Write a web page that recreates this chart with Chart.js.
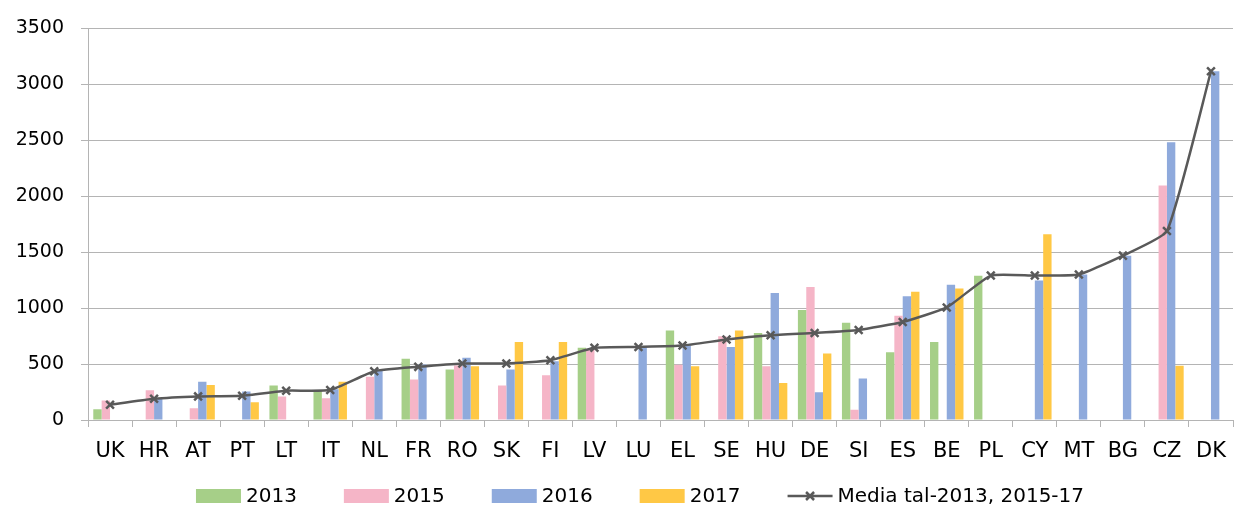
<!DOCTYPE html>
<html>
<head>
<meta charset="utf-8">
<title>Media</title>
<script src="https://cdn.jsdelivr.net/npm/chart.js@4.4.1/dist/chart.umd.min.js"></script>
<style>
    html, body { margin: 0; padding: 0; background: #ffffff; }
    #wrap { width: 1234px; height: 508px; }
</style>
</head>
<body>
<div id="wrap"><canvas id="myChart" width="1234" height="508"></canvas></div>
<script>
var categories = ["UK", "HR", "AT", "PT", "LT", "IT", "NL", "FR", "RO", "SK", "FI", "LV", "LU", "EL", "SE", "HU", "DE", "SI", "ES", "BE", "PL", "CY", "MT", "BG", "CZ", "DK"];
var yTicks = [0, 500, 1000, 1500, 2000, 2500, 3000, 3500];

var v2013 = [95, null, null, null, 309, 268, null, 547, 451, null, null, 645, null, 799, null, 778, 983, 870, 606, 698, 1289, null, null, null, null, null];
var v2015 = [175, 267, 104, null, 211, 195, 386, 362, 487, 309, 401, 636, null, 493, 748, 481, 1188, 92, 932, null, null, null, null, null, 2096, null];
var v2016 = [null, 195, 342, 255, null, 275, 451, 496, 556, 451, 526, null, 650, 665, 653, 1134, 247, 371, 1105, 1208, null, 1247, 1300, 1467, 2482, 3117];
var v2017 = [null, null, 312, 158, null, 342, null, null, 481, 698, 698, null, null, 481, 799, 330, 594, null, 1146, 1176, null, 1660, null, null, 484, null];
var media = [137, 190, 211, 217, 262, 268, 436, 475, 505, 505, 534, 645, 653, 665, 719, 757, 778, 805, 876, 1006, 1291, 1291, 1300, 1469, 1689, 3117];

var seriesLabels = ["2013", "2015", "2016", "2017", "Media tal-2013, 2015-17"];
var colors = ["#A6CF88", "#F5B5C7", "#8FAADC", "#FFC845", "#595959"];

var gridColor = "#B4B4B4";
var fontName = "'DejaVu Sans', sans-serif";

// legend drawn by hand so the spacing can follow the picture
var legendPlugin = {
    id: "handLegend",
    afterDraw: function (chart) {
        var ctx = chart.ctx;
        var boxW = 45, boxH = 14, gap = 5, itemGap = 47;
        var cy = 496;
        ctx.save();
        ctx.font = "20px " + fontName;
        ctx.textBaseline = "middle";
        var widths = seriesLabels.map(function (t) {
            return boxW + gap + ctx.measureText(t).width;
        });
        var total = widths.reduce(function (a, b) { return a + b; }, 0) + itemGap * (widths.length - 1);
        var x = 640 - total / 2;
        for (var i = 0; i < seriesLabels.length; i++) {
            if (i < 4) {
                ctx.fillStyle = colors[i];
                ctx.fillRect(x, cy - boxH / 2, boxW, boxH);
            } else {
                ctx.strokeStyle = colors[i];
                ctx.lineWidth = 2.5;
                ctx.beginPath();
                ctx.moveTo(x, cy);
                ctx.lineTo(x + boxW, cy);
                var mx = x + boxW / 2, r = 4;
                ctx.moveTo(mx - r, cy - r);
                ctx.lineTo(mx + r, cy + r);
                ctx.moveTo(mx - r, cy + r);
                ctx.lineTo(mx + r, cy - r);
                ctx.stroke();
            }
            ctx.fillStyle = "#000000";
            ctx.fillText(seriesLabels[i], x + boxW + gap, cy + 1);
            x += widths[i] + itemGap;
        }
        ctx.restore();
    },
};

function barSet(idx, values) {
    return {
        type: "bar",
        label: seriesLabels[idx],
        data: values,
        backgroundColor: colors[idx],
        borderWidth: 0,
        barPercentage: 1.0,
        categoryPercentage: 0.76,
        order: 1,
    };
}

const ctx = document.getElementById("myChart");
var myChart = new Chart(ctx, {
    type: "bar",
    data: {
        labels: categories,
        datasets: [
            barSet(0, v2013),
            barSet(1, v2015),
            barSet(2, v2016),
            barSet(3, v2017),
            {
                type: "line",
                label: seriesLabels[4],
                data: media,
                borderColor: colors[4],
                backgroundColor: colors[4],
                borderWidth: 2.5,
                pointStyle: "crossRot",
                pointRadius: 5.5,
                pointBorderWidth: 2.5,
                pointBorderColor: colors[4],
                tension: 0.15,
                fill: false,
                clip: false,
                order: 0,
            },
        ],
    },
    options: {
        responsive: false,
        animation: false,
        devicePixelRatio: 1,
        layout: {
            autoPadding: false,
            padding: { top: 27, right: 1, bottom: 33, left: 0 },
        },
        plugins: {
            legend: { display: false },
            tooltip: { enabled: false },
        },
        scales: {
            x: {
                offset: true,
                grid: {
                    display: true,
                    offset: true,
                    drawOnChartArea: false,
                    drawTicks: true,
                    tickLength: 7,
                    color: gridColor,
                },
                border: { display: true, color: gridColor, width: 1 },
                ticks: {
                    color: "#000000",
                    font: { family: fontName, size: 21 },
                    padding: 12,
                    maxRotation: 0,
                    autoSkip: false,
                },
                afterFit: function (scale) {
                    scale.height = 55;
                    scale.paddingLeft = 0;
                    scale.paddingRight = 0;
                },
            },
            y: {
                min: 0,
                max: 3500,
                afterBuildTicks: function (scale) {
                    scale.ticks = yTicks.map(function (v) { return { value: v }; });
                },
                grid: {
                    color: gridColor,
                    lineWidth: 1,
                    tickLength: 7,
                },
                border: { display: true, color: gridColor, width: 1 },
                ticks: {
                    color: "#000000",
                    font: { family: fontName, size: 19 },
                    padding: 17,
                    callback: function (value) {
                        return String(value);
                    },
                },
                afterFit: function (scale) {
                    scale.width = 88;
                },
            },
        },
    },
    plugins: [legendPlugin],
});
</script>
</body>
</html>
